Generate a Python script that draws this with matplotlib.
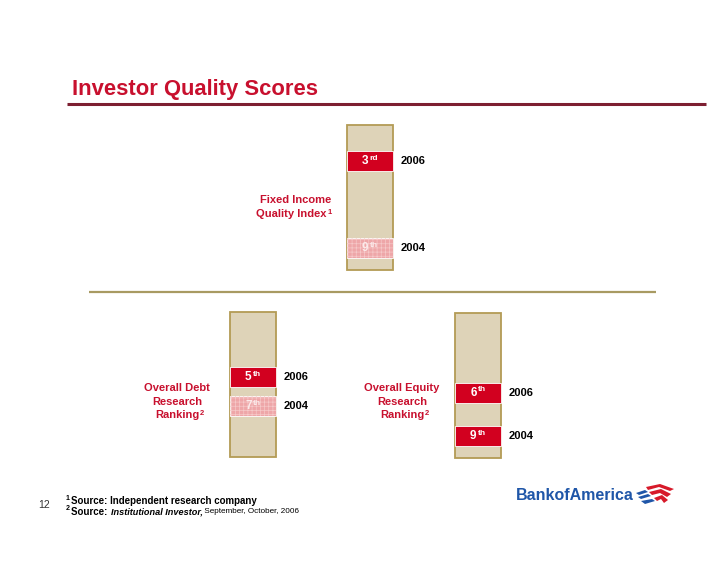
import matplotlib
matplotlib.use('Agg')
from matplotlib import pyplot as plt
from matplotlib.patches import Polygon
from matplotlib.transforms import blended_transform_factory

plt.rcParams['font.family'] = ['Liberation Sans', 'DejaVu Sans']

# --- data ---
panel_labels = ['Fixed Income\nQuality Index', 'Overall Debt\nResearch\nRanking', 'Overall Equity\nResearch\nRanking']
label_notes = ['1', '2', '2']
years = ['2006', '2004']
ranks_2006 = [3, 5, 6]
ranks_2004 = [9, 7, 9]
hatched_2004 = [True, True, False]
rank_min, rank_max = 1, 10

title = 'Investor Quality Scores'
page_number = '12'

RED = '#d2001f'
TITLE_RED = '#c8102e'
TAN = '#ded3b8'
OLIVE = '#b39b55'
PINK = '#eea6a8'

W, H = 728, 563
fig = plt.figure(figsize=(W / 100, H / 100), dpi=100)
bg = fig.add_axes([0, 0, 1, 1])
bg.set_xlim(0, W)
bg.set_ylim(H, 0)
bg.axis('off')


def px_axes(x0, y0, x1, y1):
    return fig.add_axes([x0 / W, 1 - y1 / H, (x1 - x0) / W, (y1 - y0) / H])


def suffix(n):
    return {1: 'st', 2: 'nd', 3: 'rd'}.get(n, 'th')


def rank_text(ax, r, color):
    t = ax.text(0.47, r, str(r), ha='right', va='center', color=color,
                fontsize=8.5, fontweight='bold')
    ax.annotate(suffix(r), xy=(1, 1), xycoords=t, xytext=(0.6, 0.3),
                textcoords='offset points', ha='left', va='top',
                color=color, fontsize=6, fontweight='bold')


def column(ax, r06, r04, hatched):
    ax.set_xlim(0, 1)
    ax.set_ylim(rank_max + 0.5, rank_min - 0.5)
    ax.axis('off')
    ax.bar(0.5, rank_max - rank_min + 1, bottom=rank_min - 0.5, width=1,
           color=TAN, edgecolor=OLIVE, linewidth=1.3, clip_on=False)
    box_h = 1.4
    ax.bar(0.5, box_h, bottom=r06 - box_h / 2, width=1, color=RED,
           edgecolor='white', linewidth=0.6, clip_on=False)
    rank_text(ax, r06, 'white')
    if hatched:
        ax.bar(0.5, box_h, bottom=r04 - box_h / 2, width=1, color=PINK,
               edgecolor='white', linewidth=0.6, clip_on=False)
        ax.bar(0.5, box_h, bottom=r04 - box_h / 2, width=1, facecolor='none',
               edgecolor='#f6c9c9', hatch='++++', linewidth=0, clip_on=False)
        rank_text(ax, r04, '#fbeaea')
    else:
        ax.bar(0.5, box_h, bottom=r04 - box_h / 2, width=1, color=RED,
               edgecolor='white', linewidth=0.6, clip_on=False)
        rank_text(ax, r04, 'white')
    tr = blended_transform_factory(ax.transAxes, ax.transData)
    for yr, r in zip(years, [r06, r04]):
        ax.text(1.17, r, yr, transform=tr, ha='left', va='center',
                fontsize=8, fontweight='bold', color='black', clip_on=False)


plt.rcParams['hatch.linewidth'] = 0.5

col_boxes = [(347, 125, 393, 270), (230, 312, 276, 457), (455, 313, 501, 458)]
for i, box in enumerate(col_boxes):
    ax = px_axes(*box)
    column(ax, ranks_2006[i], ranks_2004[i], hatched_2004[i])

# panel labels (red)
lab_pos = [(331, 200, 'right'), (177, 388, 'center'), (402, 388, 'center')]
for (x, y, ha), lab, note in zip(lab_pos, panel_labels, label_notes):
    lines = lab.split('\n')
    for j, line in enumerate(lines):
        last = j == len(lines) - 1
        xx = x - 4 if (ha == 'right' and last) else x
        t = bg.text(xx, y + j * 13.7, line,
                    ha=ha, va='center', color=TITLE_RED, fontsize=8,
                    fontweight='bold')
    bg.annotate(note, xy=(1, 1), xycoords=t, xytext=(0.5, 0),
                textcoords='offset points', ha='left', va='top',
                color=TITLE_RED, fontsize=5.5, fontweight='bold')

# title and rules
bg.text(72, 90, title, ha='left', va='center', color=TITLE_RED,
        fontsize=15.8, fontweight='bold')
bg.plot([67, 706], [104, 104], color='#7d1f31', linewidth=2.2,
        solid_capstyle='butt')
bg.plot([89, 656], [292, 292], color='#a89a62', linewidth=1.6,
        solid_capstyle='butt')

# footnotes
bg.text(44, 505, page_number, ha='center', va='center', fontsize=7.5,
        color='#333333')
n1 = bg.text(66, 498, '1', ha='left', va='center', fontsize=5, fontweight='bold')
bg.annotate('Source: Independent research company', xy=(1, 0.1),
            xycoords=n1, xytext=(1, 0), textcoords='offset points',
            ha='left', va='center', fontsize=7, fontweight='bold')
n2 = bg.text(66, 509, '2', ha='left', va='center', fontsize=5, fontweight='bold')
s2 = bg.annotate('Source: ', xy=(1, 0.1), xycoords=n2, xytext=(1, 0),
                 textcoords='offset points', ha='left', va='center',
                 fontsize=7, fontweight='bold')
s3 = bg.annotate('Institutional Investor,', xy=(1, 0.5), xycoords=s2,
                 ha='left', va='center', fontsize=6.6, fontweight='bold',
                 fontstyle='italic')
bg.annotate(' September, October, 2006', xy=(1, 0.5), xycoords=s3,
            ha='left', va='center', fontsize=5.9)

# logo
bg.text(516, 496, 'BankofAmerica', ha='left', va='center',
        fontsize=11.5, fontweight='bold', color='#1f56a8')
red_stripes = [
    [(646, 487), (660, 484), (674, 489), (670, 491), (659, 487), (648, 490)],
    [(649, 492), (661, 489), (671, 494), (667, 497), (660, 493), (652, 495)],
    [(654, 498), (662, 495), (668, 500), (664, 503), (661, 499), (657, 501)],
]
blue_stripes = [
    [(636, 493), (645, 490), (648, 492), (639, 495)],
    [(638, 497), (648, 494), (651, 496), (641, 499)],
    [(641, 501), (652, 499), (655, 501), (645, 504)],
]
for pts in red_stripes:
    bg.add_patch(Polygon(pts, closed=True, color='#d71a2a', linewidth=0))
for pts in blue_stripes:
    bg.add_patch(Polygon(pts, closed=True, color='#1f56a8', linewidth=0))

fig.savefig('out.png', dpi=100)
